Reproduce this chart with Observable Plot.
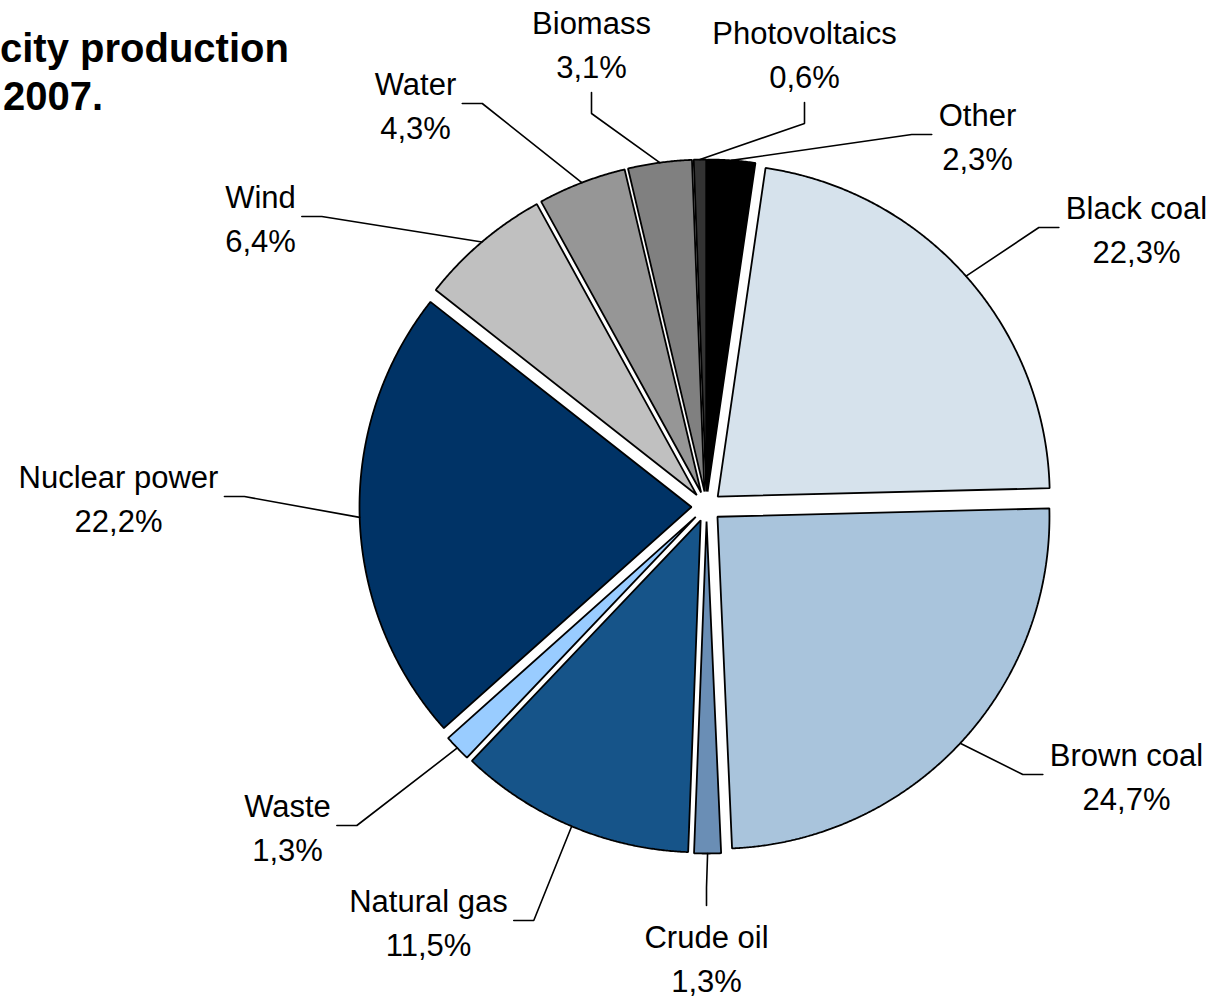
<!DOCTYPE html>
<html>
<head>
<meta charset="utf-8">
<script src="https://cdn.jsdelivr.net/npm/d3@7"></script>
<script src="https://cdn.jsdelivr.net/npm/@observablehq/plot@0.6"></script>
<style>
  html, body { margin: 0; padding: 0; background: #ffffff; }
  #wrap { position: relative; width: 1215px; height: 999px; overflow: hidden; }
  .title { position: absolute; font-family: "Liberation Sans", Arial, sans-serif; font-weight: bold;
           font-size: 40px; line-height: 40px; white-space: nowrap; color: #000; }
  #chart { position: absolute; left: 0; top: 0; }
</style>
</head>
<body>
<div id="wrap">
  <div id="chart"></div>
  <div class="title" style="left:0px; top:28px;">city production</div>
  <div class="title" style="left:3px; top:76px;">2007.</div>
</div>
<script>
// ---- data (clockwise, starting with Black coal) ----
const categories = ["Black coal", "Brown coal", "Crude oil", "Natural gas", "Waste",
  "Nuclear power", "Wind", "Water", "Biomass", "Photovoltaics", "Other"];
const shares = [22.3, 24.7, 1.3, 11.5, 1.3, 22.2, 6.4, 4.3, 3.1, 0.6, 2.3];
const colors = ["#d6e2ec", "#a9c4dc", "#6a8eb5", "#165489", "#99ccff",
  "#003366", "#c0c0c0", "#969696", "#808080", "#333333", "#000000"];

// ---- layout ----
const W = 1215, H = 999;
const pieLayout = {cx: 706, cy: 506, r: 332, explode: 15, firstAngleDeg: 8.28};
// label anchor offsets from pie centre (label centre x, stub y) and side of leader stub
const labelOffsets = [
  [430, -279, "right"], [420, 268, "right"], [0, 450, "above"], [-278, 414, "left"],
  [-419, 319, "left"], [-588, -10, "left"], [-446, -290, "left"], [-291, -403, "left"],
  [-115, -464, "below"], [98, -454, "below"], [271, -372, "right"]
];
const fontSize = 31, lineGap = 44;
const fontFamily = '"Liberation Sans", Arial, sans-serif';

const fmt = d3.format(".1f");
const pctText = shares.map(v => fmt(v).replace(".", ",") + "%");

const ctx = document.createElement("canvas").getContext("2d");
ctx.font = `${fontSize}px "Liberation Sans"`;
const measure = s => ctx.measureText(s).width;

const {cx, cy, r, explode, firstAngleDeg} = pieLayout;
const a0 = firstAngleDeg * Math.PI / 180;
const arcs = d3.pie().sort(null).value(d => d).startAngle(a0).endAngle(a0 + 2 * Math.PI)(shares);

const slicePts = [];
const leaderPts = [];
const labels = [];
arcs.forEach((a, i) => {
  const name = categories[i];
  const mid = (a.startAngle + a.endAngle) / 2;
  const ax = cx + explode * Math.sin(mid), ay = cy - explode * Math.cos(mid);
  slicePts.push({name, x: ax, y: ay});
  const step = 0.25 * Math.PI / 180;
  const n = Math.max(2, Math.ceil((a.endAngle - a.startAngle) / step) + 1);
  for (let k = 0; k < n; k++) {
    const t = a.startAngle + (a.endAngle - a.startAngle) * k / (n - 1);
    slicePts.push({name, x: ax + r * Math.sin(t), y: ay - r * Math.cos(t)});
  }
  // label
  const [dx, dy, side] = labelOffsets[i];
  const lx = cx + dx, ly = cy + dy;
  const b1 = ly - 9;
  labels.push({name, pct: pctText[i], x: lx, y1: b1, y2: b1 + lineGap});
  const w = Math.max(measure(name), measure(pctText[i]));
  const px = ax + r * Math.sin(mid), py = ay - r * Math.cos(mid);
  let knee, end;
  if (side === "right") { knee = [lx - w / 2 - 27, ly]; end = [lx - w / 2 - 7, ly]; }
  else if (side === "left") { knee = [lx + w / 2 + 26, ly]; end = [lx + w / 2 + 6, ly]; }
  else if (side === "below") { knee = [lx, b1 + lineGap + 36]; end = [lx, b1 + lineGap + 15]; }
  else { knee = [lx, b1 - 60]; end = [lx, b1 - lineGap + 2]; }
  leaderPts.push({name, x: px, y: py}, {name, x: knee[0], y: knee[1]}, {name, x: end[0], y: end[1]});
});

const chart = Plot.plot({
  width: W, height: H,
  margin: 0,
  style: {fontFamily, background: "#ffffff", color: "#000"},
  x: {domain: [0, W], range: [0, W], axis: null},
  y: {domain: [0, H], range: [0, H], axis: null},
  color: {domain: categories, range: colors, type: "ordinal"},
  marks: [
    Plot.line(slicePts, {x: "x", y: "y", z: "name", fill: "name", stroke: "#000",
      strokeWidth: 1.8, strokeLinejoin: "miter", curve: "linear-closed"}),
    Plot.line(leaderPts, {x: "x", y: "y", z: "name", stroke: "#000", strokeWidth: 1.6,
      strokeLinejoin: "miter"}),
    Plot.text(labels, {x: "x", y: "y1", text: "name", textAnchor: "middle", lineAnchor: "bottom",
      fontSize, fontFamily, fill: "#000"}),
    Plot.text(labels, {x: "x", y: "y2", text: "pct", textAnchor: "middle", lineAnchor: "bottom",
      fontSize, fontFamily, fill: "#000"})
  ]
});
document.getElementById("chart").appendChild(chart);
</script>
</body>
</html>
